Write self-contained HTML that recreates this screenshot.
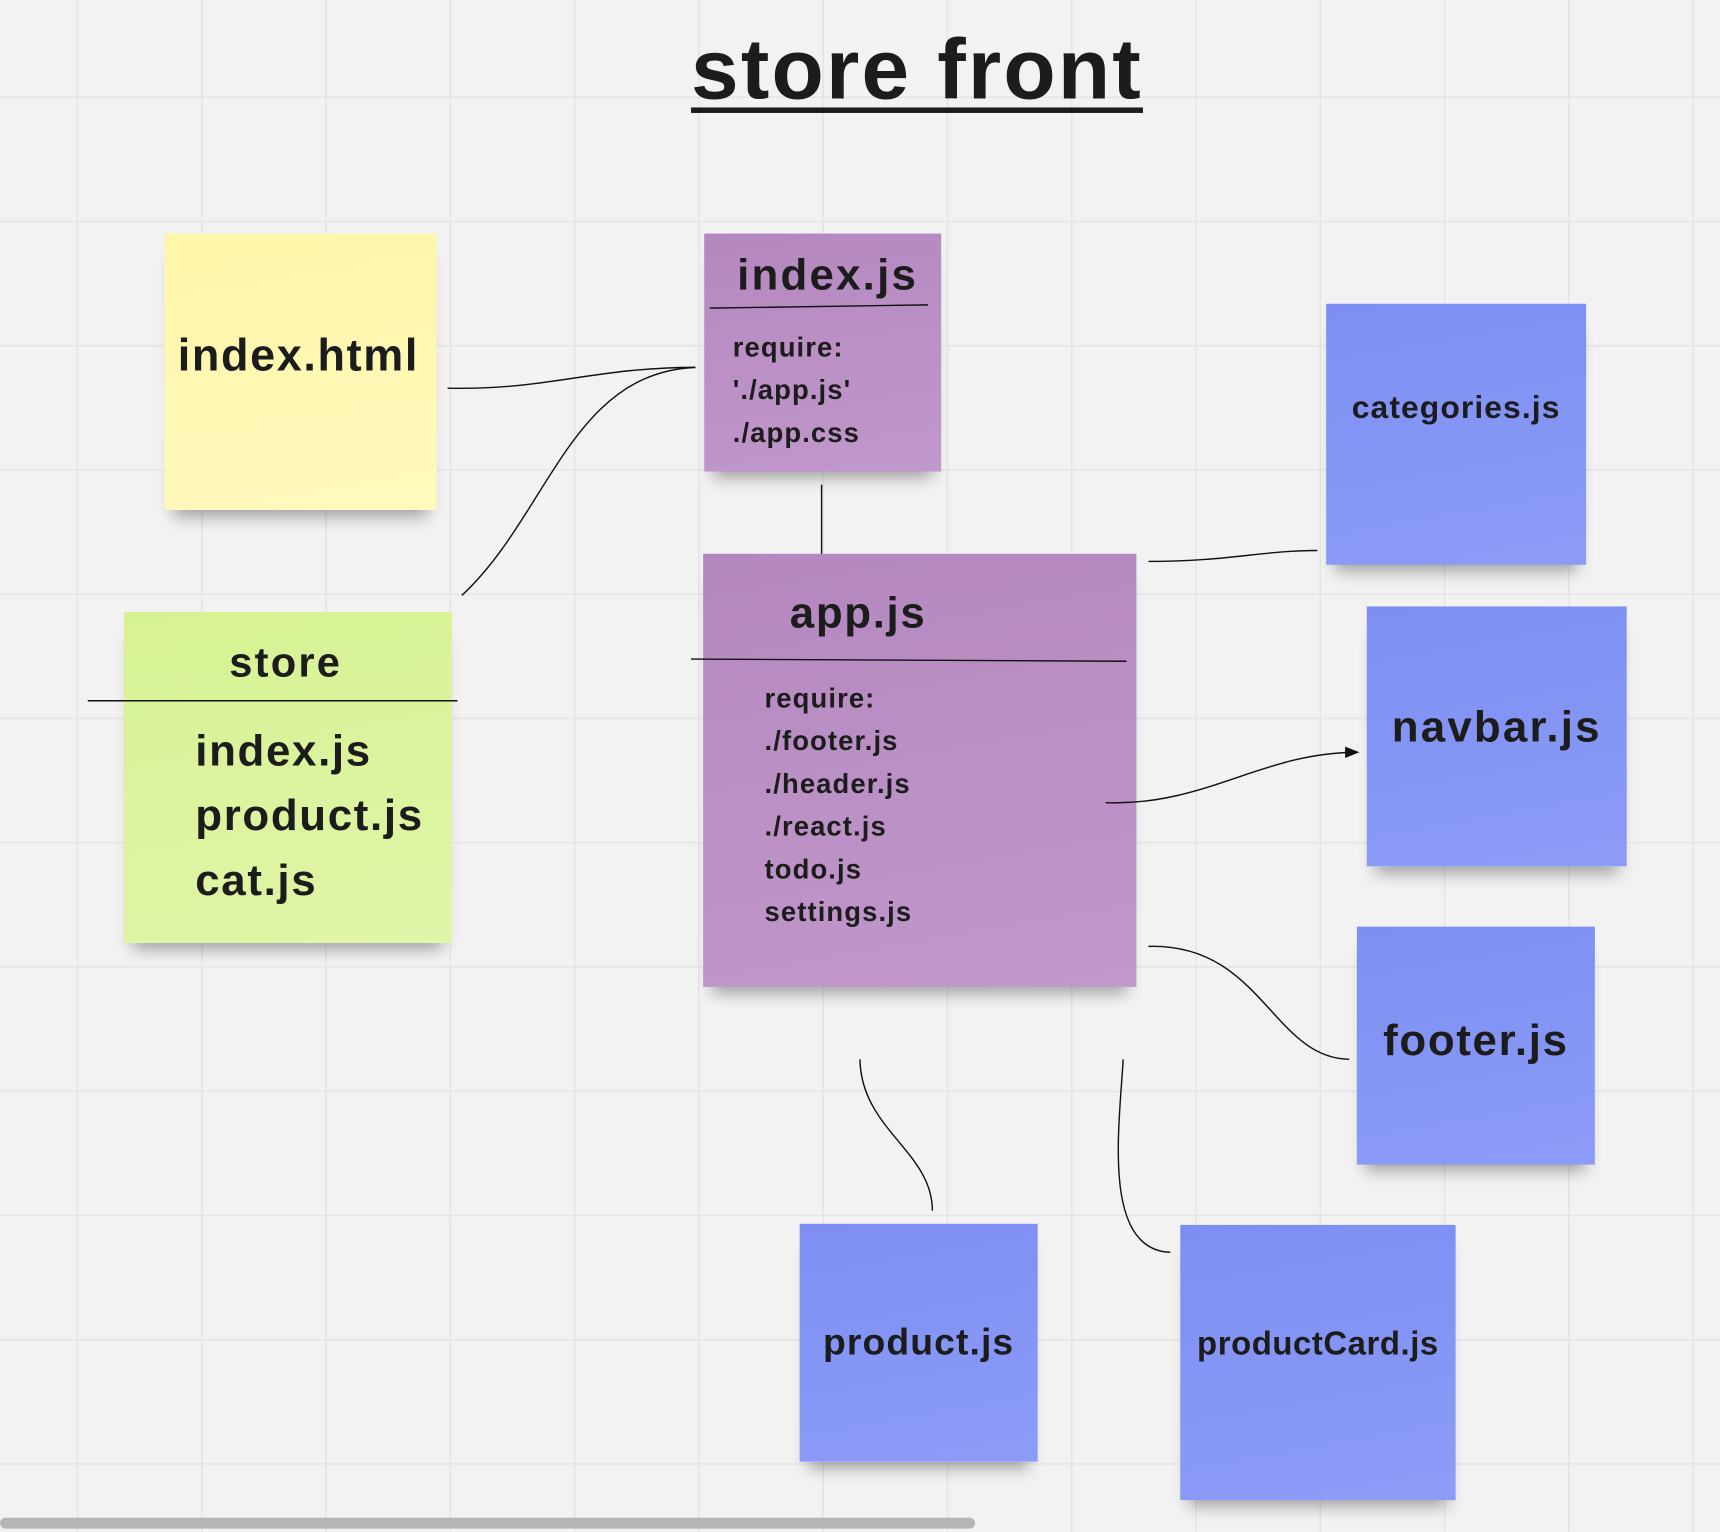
<!DOCTYPE html>
<html><head><meta charset="utf-8"><style>
html,body{margin:0;padding:0;width:1720px;height:1532px;overflow:hidden;background:#f2f2f2}
#c{position:absolute;left:0;top:0;width:1568px;height:1397px;transform:scale(1.0969,1.0966);transform-origin:0 0;
background-color:#f2f2f2;
background-image:linear-gradient(#e4e4e4 1.5px,transparent 1.5px),linear-gradient(90deg,#e4e4e4 1.5px,transparent 1.5px);
background-size:113.3px 113.3px;background-position:70px 88px;font-family:"Liberation Sans",sans-serif;font-weight:bold;color:#1c1c1c}
.n{position:absolute;box-shadow:0 14px 14px -8px rgba(0,0,0,0.35)}
.t{position:absolute;white-space:nowrap}
.y{background:linear-gradient(170deg,#fff6a8,#fff9bd)}
.g{background:linear-gradient(170deg,#d7f293,#e0f5a8)}
.p{background:linear-gradient(170deg,#b488bf,#c198cb)}
.b{background:linear-gradient(170deg,#7e8ef3,#8c9cf6)}
svg{position:absolute;left:0;top:0}
</style></head><body><div id="c">
<div class="t" style="left:630px;top:18px;font-size:78px;letter-spacing:2px;text-decoration:underline;text-decoration-thickness:5px;text-underline-offset:8px">store front</div>

<div class="n y" style="left:150px;top:213px;width:248px;height:252px"></div>
<div class="t" style="left:162px;top:301px;font-size:41px;letter-spacing:1.5px">index.html</div>

<div class="n g" style="left:113px;top:558px;width:299px;height:302px"></div>
<div class="t" style="left:209px;top:584px;font-size:38px;letter-spacing:2px">store</div>
<div class="t" style="left:178px;top:656px;font-size:40px;letter-spacing:1.5px;line-height:59px">index.js<br>product.js<br>cat.js</div>

<div class="n p" style="left:642px;top:213px;width:216px;height:217px"></div>
<div class="t" style="left:672px;top:229px;font-size:40px;letter-spacing:2px">index.js</div>
<div class="t" style="left:668px;top:298px;font-size:25px;letter-spacing:1px;line-height:39px">require:<br>'./app.js'<br>./app.css</div>

<div class="n p" style="left:641px;top:505px;width:395px;height:395px"></div>
<div class="t" style="left:720px;top:537px;font-size:40px;letter-spacing:1.5px">app.js</div>
<div class="t" style="left:697px;top:618px;font-size:25px;letter-spacing:1px;line-height:39px">require:<br>./footer.js<br>./header.js<br>./react.js<br>todo.js<br>settings.js</div>

<div class="n b" style="left:1209px;top:277px;width:237px;height:238px"></div>
<div class="t" style="left:1209px;top:356px;width:237px;text-align:center;font-size:29px;letter-spacing:1px">categories.js</div>
<div class="n b" style="left:1246px;top:553px;width:237px;height:237px"></div>
<div class="t" style="left:1246px;top:641px;width:237px;text-align:center;font-size:40px;letter-spacing:2px">navbar.js</div>
<div class="n b" style="left:1237px;top:845px;width:217px;height:217px"></div>
<div class="t" style="left:1237px;top:927px;width:217px;text-align:center;font-size:40px;letter-spacing:1.5px">footer.js</div>
<div class="n b" style="left:729px;top:1116px;width:217px;height:217px"></div>
<div class="t" style="left:729px;top:1205px;width:217px;text-align:center;font-size:34px;letter-spacing:1px">product.js</div>
<div class="n b" style="left:1076px;top:1117px;width:251px;height:251px"></div>
<div class="t" style="left:1076px;top:1209px;width:251px;text-align:center;font-size:30px;letter-spacing:0.5px">productCard.js</div>

<svg width="1568" height="1397" viewBox="0 0 1568 1397">
<defs><marker id="a" markerWidth="10" markerHeight="8" refX="9" refY="4" orient="auto"><path d="M0,0 L10,4 L0,8z" fill="#111"/></marker></defs>
<g fill="none" stroke="#111" stroke-width="1.3">
<line x1="80" y1="639" x2="417" y2="639"/>
<line x1="647" y1="281" x2="846" y2="278"/>
<line x1="630" y1="601" x2="1027" y2="603"/>
<path d="M408,354 C500,356 540,335 634,335"/>
<path d="M421,543 C500,470 520,340 634,335"/>
<path d="M749,442 L749,505"/>
<path d="M1047,512 C1120,512 1150,502 1201,502"/>
<path d="M1008,732 C1100,735 1150,686 1238,686" marker-end="url(#a)"/>
<path d="M1047,863 C1150,860 1160,965 1230,966"/>
<path d="M784,966 C785,1030 850,1050 850,1104"/>
<path d="M1024,966 C1020,1030 1005,1140 1067,1142"/>
</g>
<rect x="0" y="1384" width="889" height="10" rx="5" fill="#b5b5b5"/>
</svg>
</div></body></html>
